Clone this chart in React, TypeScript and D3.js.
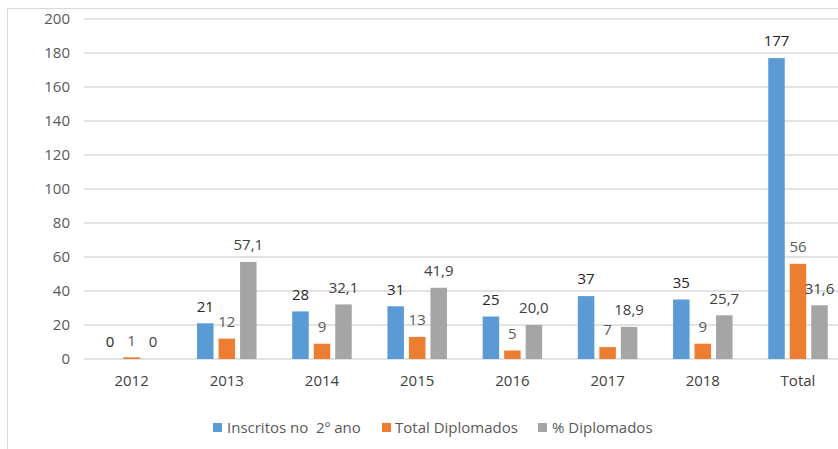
import React from "react";
import * as d3 from "d3";

const categories = ["2012", "2013", "2014", "2015", "2016", "2017", "2018", "Total"];
const inscritos = [0, 21, 28, 31, 25, 37, 35, 177];
const diplomados = [1, 12, 9, 13, 5, 7, 9, 56];
const pctDiplomados = [0, 57.1, 32.1, 41.9, 20.0, 18.9, 25.7, 31.6];
const yTicks = [0, 20, 40, 60, 80, 100, 120, 140, 160, 180, 200];

const seriesNames = ["Inscritos no  2º ano", "Total Diplomados", "% Diplomados"];
const seriesColors = ["#5B9BD5", "#ED7D31", "#A5A5A5"];
const labelColors = ["#262626", "#595959", "#404040"];
const seriesDecimals = [0, 0, 1];

const W = 838;
const H = 449;
const FONT = "'Open Sans', 'Liberation Sans', sans-serif";

export default function App() {
  const series = [inscritos, diplomados, pctDiplomados];
  const x = d3.scaleBand<string>().domain(categories).range([84, 845.6]).padding(0);
  const inner = d3
    .scaleBand<number>()
    .domain([0, 1, 2])
    .range([-29.75, 29.75])
    .paddingInner(0.2326)
    .paddingOuter(0);
  const y = d3.scaleLinear().domain([0, 200]).range([359, 19]);
  const fmt = (v: number, dec: number) =>
    dec === 0 || v === 0 ? String(Math.round(v)) : v.toFixed(dec).replace(".", ",");

  const legendItems = [
    { sx: 213, tx: 227 },
    { sx: 382, tx: 395 },
    { sx: 538, tx: 552 },
  ];

  return (
    <svg
      width={W}
      height={H}
      style={{ position: "absolute", left: 0, top: 0, background: "#fff" }}
      fontFamily={FONT}
    >
      <rect x={0} y={0} width={W} height={H} fill="#fff" />
      <rect x={7.5} y={8.5} width={900} height={470} fill="none" stroke="#D9D9D9" strokeWidth={1} />
      {yTicks.map((t) => (
        <g key={t}>
          <line x1={84} x2={846} y1={y(t)} y2={y(t)} stroke="#D9D9D9" strokeWidth={1.3} />
          <text
            x={70}
            y={y(t)}
            dy="0.35em"
            textAnchor="end"
            fontSize={15}
            fill="#595959"
          >
            {t}
          </text>
        </g>
      ))}
      {categories.map((c, i) => (
        <g key={c}>
          {series.map((s, k) => {
            const cx = x(c)! + x.bandwidth() / 2 + inner(k)!;
            const bw = inner.bandwidth();
            const v = s[i];
            return (
              <g key={k}>
                {v > 0 && (
                  <rect x={cx} y={y(v)} width={bw} height={y(0) - y(v)} fill={seriesColors[k]} />
                )}
                <text
                  x={cx + bw / 2}
                  y={y(v) - 17}
                  dy="0.35em"
                  textAnchor="middle"
                  fontSize={15}
                  fill={labelColors[k]}
                >
                  {fmt(v, seriesDecimals[k])}
                </text>
              </g>
            );
          })}
          <text
            x={x(c)! + x.bandwidth() / 2}
            y={381}
            dy="0.35em"
            textAnchor="middle"
            fontSize={15}
            fill="#404040"
          >
            {c}
          </text>
        </g>
      ))}
      {seriesNames.map((n, k) => (
        <g key={n}>
          <rect x={legendItems[k].sx} y={423} width={9} height={9} fill={seriesColors[k]} />
          <text
            x={legendItems[k].tx}
            y={427.5}
            dy="0.35em"
            fontSize={15}
            fill="#595959"
            style={{ whiteSpace: "pre" }}
          >
            {n}
          </text>
        </g>
      ))}
    </svg>
  );
}
